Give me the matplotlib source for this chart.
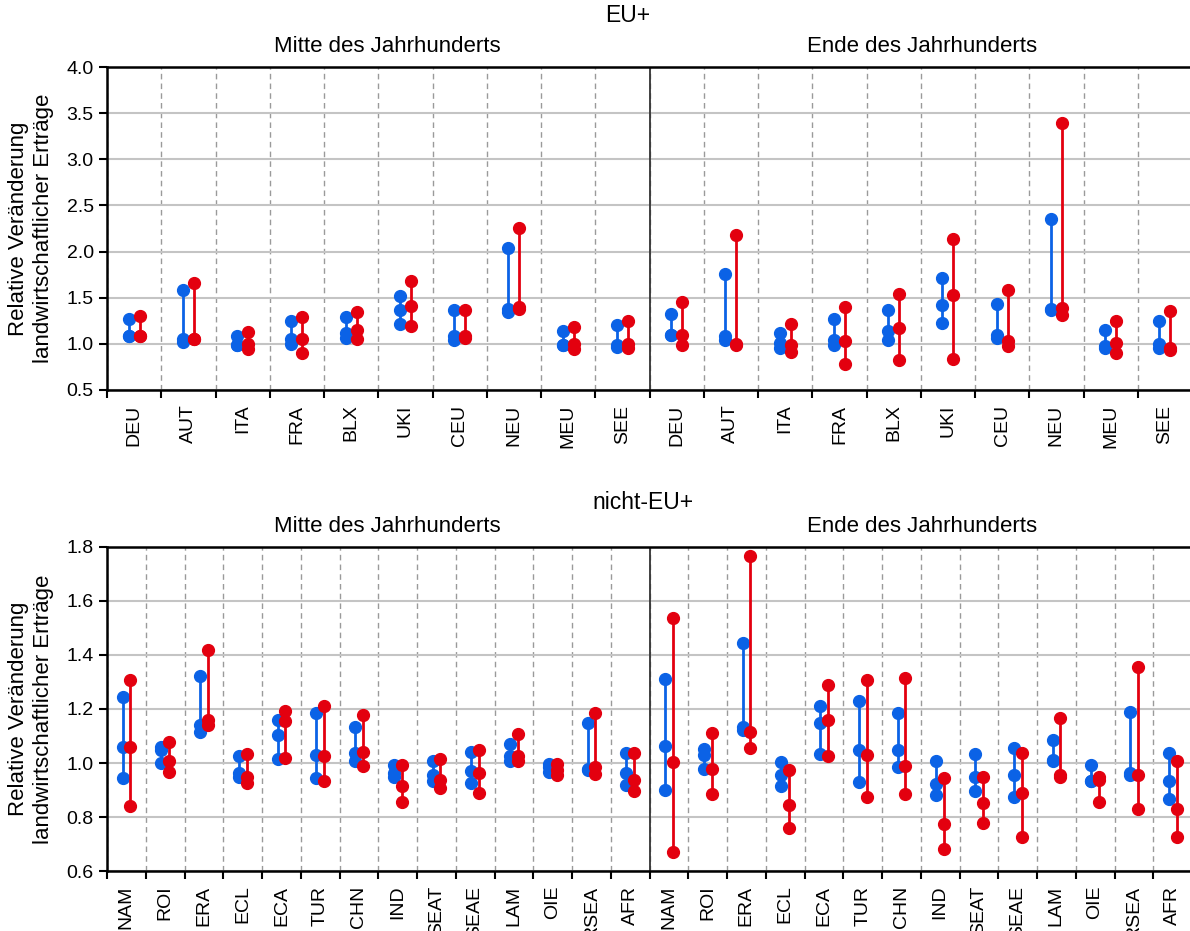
import matplotlib.pyplot as plt
import numpy as np

plt.rcParams['font.family'] = ['Liberation Sans', 'DejaVu Sans']

# Regionen
eu_regionen = ['DEU', 'AUT', 'ITA', 'FRA', 'BLX', 'UKI', 'CEU', 'NEU', 'MEU', 'SEE']
welt_regionen = ['NAM', 'ROI', 'ERA', 'ECL', 'ECA', 'TUR', 'CHN', 'IND',
                 'SEAT', 'SEAE', 'LAM', 'OIE', 'RSEA', 'AFR']

# je Region: (Maximum, Median, Minimum)
eu_mitte_blau = [(1.27, 1.09, 1.09), (1.58, 1.05, 1.02), (1.09, 0.99, 0.99),
                 (1.25, 1.05, 1.00), (1.29, 1.12, 1.06), (1.52, 1.37, 1.21),
                 (1.37, 1.09, 1.04), (2.04, 1.38, 1.35), (1.14, 0.99, 0.99),
                 (1.20, 0.99, 0.97)]
eu_mitte_rot = [(1.30, 1.09, 1.09), (1.66, 1.05, 1.05), (1.13, 1.00, 0.94),
                (1.29, 1.05, 0.90), (1.35, 1.15, 1.05), (1.68, 1.41, 1.19),
                (1.37, 1.09, 1.06), (2.25, 1.40, 1.38), (1.18, 1.00, 0.94),
                (1.25, 1.00, 0.96)]
eu_ende_blau = [(1.32, 1.10, 1.10), (1.76, 1.08, 1.04), (1.12, 1.01, 0.96),
                (1.27, 1.04, 0.99), (1.37, 1.14, 1.04), (1.71, 1.42, 1.23),
                (1.43, 1.10, 1.06), (2.35, 1.38, 1.37), (1.15, 0.98, 0.96),
                (1.25, 1.00, 0.95)]
eu_ende_rot = [(1.45, 1.10, 0.99), (2.18, 1.00, 0.99), (1.22, 0.99, 0.91),
               (1.40, 1.03, 0.78), (1.54, 1.17, 0.83), (2.14, 1.53, 0.84),
               (1.58, 1.03, 0.98), (3.39, 1.39, 1.31), (1.25, 1.01, 0.90),
               (1.36, 0.95, 0.93)]

welt_mitte_blau = [(1.245, 1.060, 0.946), (1.060, 1.050, 1.000), (1.322, 1.139, 1.115),
                   (1.026, 0.962, 0.947), (1.159, 1.105, 1.016), (1.187, 1.030, 0.946),
                   (1.132, 1.038, 1.009), (0.991, 0.962, 0.947), (1.009, 0.957, 0.935),
                   (1.041, 0.972, 0.927), (1.070, 1.026, 1.006), (0.996, 0.985, 0.967),
                   (1.147, 0.978, 0.974), (1.038, 0.962, 0.919)]
welt_mitte_rot = [(1.309, 1.060, 0.842), (1.079, 1.009, 0.967), (1.420, 1.158, 1.139),
                  (1.033, 0.947, 0.927), (1.191, 1.155, 1.018), (1.211, 1.026, 0.932),
                  (1.176, 1.041, 0.989), (0.991, 0.915, 0.856), (1.016, 0.937, 0.906),
                  (1.048, 0.964, 0.888), (1.107, 1.026, 1.009), (0.996, 0.975, 0.954),
                  (1.186, 0.986, 0.958), (1.038, 0.937, 0.895)]
welt_ende_blau = [(1.312, 1.063, 0.900), (1.053, 1.028, 0.979), (1.445, 1.132, 1.124),
                  (1.004, 0.954, 0.913), (1.211, 1.149, 1.033), (1.230, 1.048, 0.930),
                  (1.184, 1.048, 0.984), (1.009, 0.922, 0.883), (1.033, 0.947, 0.898),
                  (1.055, 0.957, 0.873), (1.087, 1.012, 1.009), (0.994, 0.935, 0.935),
                  (1.188, 0.962, 0.954), (1.036, 0.935, 0.866)]
welt_ende_rot = [(1.536, 1.004, 0.672), (1.110, 0.977, 0.885), (1.765, 1.115, 1.055),
                 (0.974, 0.845, 0.760), (1.288, 1.161, 1.026), (1.307, 1.028, 0.873),
                 (1.315, 0.989, 0.885), (0.946, 0.775, 0.681), (0.949, 0.851, 0.777),
                 (1.036, 0.890, 0.725), (1.165, 0.957, 0.947), (0.947, 0.937, 0.856),
                 (1.354, 0.957, 0.831), (1.009, 0.831, 0.725)]

BLAU = '#0b62e6'
ROT = '#e3000f'

fig = plt.figure(figsize=(11.9, 9.31), dpi=100)
W, H = 1190, 931


def panel(oben, unten, regionen, mitte_blau, mitte_rot, ende_blau, ende_rot, yticks):
    ax = fig.add_axes([107 / W, (H - unten) / H, (1192 - 107) / W, (unten - oben) / H])
    labels = regionen + regionen
    blau = mitte_blau + ende_blau
    rot = mitte_rot + ende_rot
    n = len(labels)

    for i in range(n):
        for werte, farbe, dx in ((blau[i], BLAU, -0.1), (rot[i], ROT, 0.1)):
            ax.plot([i + dx] * len(werte), werte, color=farbe, lw=2,
                    marker='o', ms=8.5, zorder=3)

    ax.set_xlim(-0.5, n - 0.5)
    ax.set_ylim(yticks[0], yticks[-1])
    ax.set_yticks(yticks)
    ax.set_yticklabels([f'{v:.1f}' for v in yticks])

    # Trennlinien zwischen Regionen, Beschriftung in der Mitte
    ax.set_xticks(np.arange(-0.5, n, 1.0))
    ax.set_xticklabels([])
    ax.set_xticks(np.arange(n), minor=True)
    ax.set_xticklabels(labels, minor=True, rotation=90, fontsize=14)
    ax.tick_params(axis='x', which='minor', length=0, pad=10.5)
    ax.tick_params(axis='x', which='major', length=6, width=1.5)
    ax.tick_params(axis='y', length=6, width=1.5, labelsize=14)

    ax.grid(axis='x', which='major', ls=(0, (4, 3)), color='#9a9a9a', lw=1)
    ax.grid(axis='y', color='#c4c4c4', lw=1.5)
    ax.set_axisbelow(True)
    ax.axvline(n / 2 - 0.5, color='#333333', lw=1.3, zorder=2)

    for s in ax.spines.values():
        s.set_linewidth(1.8)

    fig.text(31 / W, 1 - (oben + unten) / 2 / H,
             'Relative Veränderung\nlandwirtschaftlicher Erträge',
             rotation=90, ha='center', va='center', fontsize=16,
             multialignment='center')
    fig.text(387 / W, 1 - (oben - 21) / H, 'Mitte des Jahrhunderts',
             ha='center', va='center', fontsize=16)
    fig.text(922 / W, 1 - (oben - 21) / H, 'Ende des Jahrhunderts',
             ha='center', va='center', fontsize=16)
    return ax


panel(67, 390, eu_regionen, eu_mitte_blau, eu_mitte_rot, eu_ende_blau, eu_ende_rot,
      np.arange(0.5, 4.01, 0.5))
fig.text(628 / W, 1 - 15 / H, 'EU+', ha='center', va='center', fontsize=16.5)

panel(547, 871, welt_regionen, welt_mitte_blau, welt_mitte_rot, welt_ende_blau,
      welt_ende_rot, np.arange(0.6, 1.81, 0.2))
fig.text(643 / W, 1 - 502 / H, 'nicht-EU+', ha='center', va='center', fontsize=16.5)

fig.savefig('out.png', dpi=100)
